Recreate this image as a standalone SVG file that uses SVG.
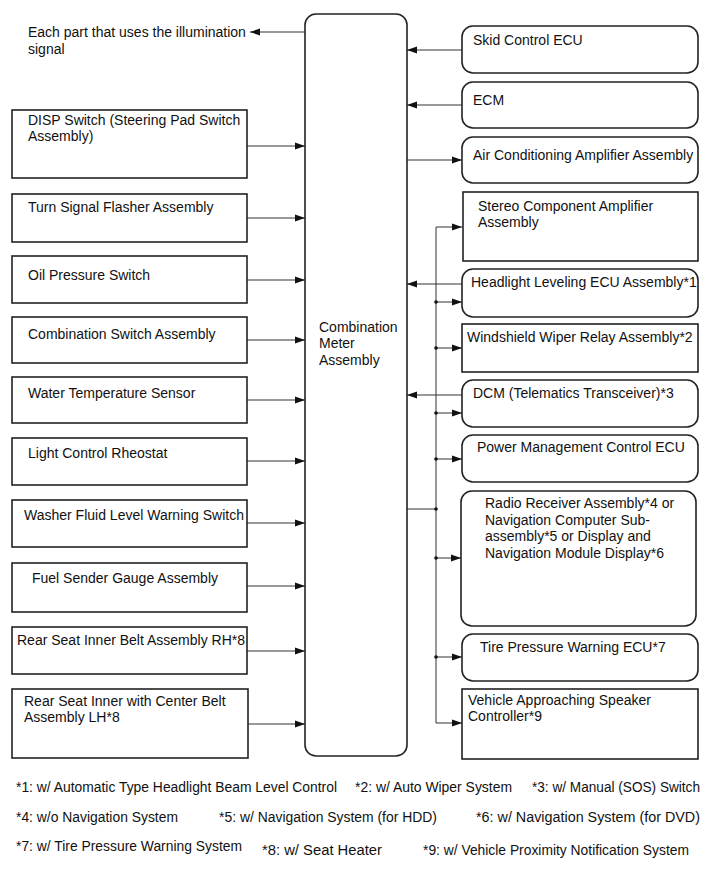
<svg xmlns="http://www.w3.org/2000/svg" width="713" height="882" viewBox="0 0 713 882">
<style>
.b{fill:#fff;stroke:#222;stroke-width:1.6}
.t{font-family:"Liberation Sans",Arial,sans-serif;font-size:14px;fill:#111}
.f{font-family:"Liberation Sans",Arial,sans-serif;font-size:14px;fill:#111}
.c{fill:none;stroke:#333;stroke-width:1}
.a{fill:none;stroke:#333;stroke-width:1;marker-end:url(#ah)}
</style>
<defs>
<marker id="ah" viewBox="0 0 10 8" refX="10" refY="4" markerWidth="10" markerHeight="8" markerUnits="userSpaceOnUse" orient="auto">
<path d="M0,0.5 L10,4 L0,7.5 Z" fill="#111"/>
</marker>
</defs>
<rect width="713" height="882" fill="#fff"/>
<g id="connectors">
<line class="a" x1="305" y1="32" x2="250" y2="32"/>
<line class="a" x1="247" y1="146" x2="305" y2="146"/>
<line class="a" x1="247" y1="218" x2="305" y2="218"/>
<line class="a" x1="247" y1="280" x2="305" y2="280"/>
<line class="a" x1="247" y1="340" x2="305" y2="340"/>
<line class="a" x1="247" y1="400" x2="305" y2="400"/>
<line class="a" x1="247" y1="461" x2="305" y2="461"/>
<line class="a" x1="247" y1="523" x2="305" y2="523"/>
<line class="a" x1="247" y1="586" x2="305" y2="586"/>
<line class="a" x1="247" y1="651" x2="305" y2="651"/>
<line class="a" x1="247" y1="724" x2="305" y2="724"/>
<line class="a" x1="462" y1="50" x2="407" y2="50"/>
<line class="a" x1="462" y1="105" x2="407" y2="105"/>
<line class="a" x1="407" y1="160" x2="462" y2="160"/>
<line class="a" x1="462" y1="284" x2="407" y2="284"/>
<line class="a" x1="462" y1="395" x2="407" y2="395"/>
<path class="c" d="M407,509 H436 M436,227 V723"/>
<line class="a" x1="436" y1="227" x2="462" y2="227"/>
<line class="a" x1="436" y1="302" x2="462" y2="302"/>
<line class="a" x1="436" y1="348" x2="462" y2="348"/>
<line class="a" x1="436" y1="413" x2="462" y2="413"/>
<line class="a" x1="436" y1="459" x2="462" y2="459"/>
<line class="a" x1="436" y1="558" x2="461" y2="558"/>
<line class="a" x1="436" y1="657" x2="462" y2="657"/>
<line class="a" x1="436" y1="723" x2="462" y2="723"/>
<g fill="#111">
<circle cx="436" cy="302" r="1.8"/>
<circle cx="436" cy="348" r="1.8"/>
<circle cx="436" cy="413" r="1.8"/>
<circle cx="436" cy="459" r="1.8"/>
<circle cx="436" cy="509" r="1.8"/>
<circle cx="436" cy="558" r="1.8"/>
<circle cx="436" cy="657" r="1.8"/>
</g>
</g>
<g id="illum">
<text class="t" x="28" y="37">Each part that uses the illumination</text>
<text class="t" x="28" y="54">signal</text>
</g>
<g id="meter">
<rect class="b" x="305" y="14" width="102" height="742" rx="11"/>
<text class="t" x="319" y="332">Combination</text>
<text class="t" x="319" y="348">Meter</text>
<text class="t" x="319" y="365">Assembly</text>
</g>
<g id="disp"><rect class="b" x="12" y="110" width="235" height="68"/><text class="t" x="28" y="125">DISP Switch (Steering Pad Switch</text><text class="t" x="28" y="141">Assembly)</text></g>
<g id="turn"><rect class="b" x="12" y="194" width="235" height="48"/><text class="t" x="28" y="212">Turn Signal Flasher Assembly</text></g>
<g id="oil"><rect class="b" x="12" y="256" width="235" height="47"/><text class="t" x="28" y="280">Oil Pressure Switch</text></g>
<g id="combsw"><rect class="b" x="12" y="317" width="235" height="46"/><text class="t" x="28" y="339">Combination Switch Assembly</text></g>
<g id="water"><rect class="b" x="12" y="377" width="235" height="46"/><text class="t" x="28" y="398">Water Temperature Sensor</text></g>
<g id="rheo"><rect class="b" x="12" y="438" width="235" height="47"/><text class="t" x="28" y="458">Light Control Rheostat</text></g>
<g id="washer"><rect class="b" x="12" y="500" width="235" height="47"/><text class="t" x="24" y="520">Washer Fluid Level Warning Switch</text></g>
<g id="fuel"><rect class="b" x="12" y="563" width="235" height="49"/><text class="t" x="32" y="583">Fuel Sender Gauge Assembly</text></g>
<g id="rearrh"><rect class="b" x="12" y="627" width="235" height="47"/><text class="t" x="17" y="645">Rear Seat Inner Belt Assembly RH*8</text></g>
<g id="rearlh"><rect class="b" x="12" y="689" width="236" height="69"/><text class="t" x="24" y="706">Rear Seat Inner with Center Belt</text><text class="t" x="24" y="722">Assembly LH*8</text></g>
<g id="skid"><rect class="b" x="462" y="26" width="236" height="47" rx="11"/><text class="t" x="473" y="45">Skid Control ECU</text></g>
<g id="ecm"><rect class="b" x="462" y="82" width="236" height="46" rx="11"/><text class="t" x="473" y="105">ECM</text></g>
<g id="aircon"><rect class="b" x="462" y="137" width="236" height="46" rx="11"/><text class="t" x="473" y="160">Air Conditioning Amplifier Assembly</text></g>
<g id="stereo"><rect class="b" x="463" y="192" width="235" height="69"/><text class="t" x="478" y="211">Stereo Component Amplifier</text><text class="t" x="478" y="227">Assembly</text></g>
<g id="headlight"><rect class="b" x="462" y="269" width="236" height="48" rx="11"/><text class="t" x="471" y="287">Headlight Leveling ECU Assembly*1</text></g>
<g id="wiper"><rect class="b" x="462" y="324" width="236" height="48"/><text class="t" x="467" y="342">Windshield Wiper Relay Assembly*2</text></g>
<g id="dcm"><rect class="b" x="462" y="380" width="236" height="47" rx="11"/><text class="t" x="473" y="398">DCM (Telematics Transceiver)*3</text></g>
<g id="power"><rect class="b" x="462" y="435" width="236" height="47" rx="11"/><text class="t" x="477" y="452">Power Management Control ECU</text></g>
<g id="radio"><rect class="b" x="461" y="491" width="235" height="135" rx="11"/><text class="t" x="485" y="508">Radio Receiver Assembly*4 or</text><text class="t" x="485" y="525">Navigation Computer Sub-</text><text class="t" x="485" y="541">assembly*5 or Display and</text><text class="t" x="485" y="558">Navigation Module Display*6</text></g>
<g id="tire"><rect class="b" x="462" y="634" width="236" height="47" rx="11"/><text class="t" x="480" y="652">Tire Pressure Warning ECU*7</text></g>
<g id="vehicle"><rect class="b" x="462" y="689" width="236" height="70"/><text class="t" x="468" y="705">Vehicle Approaching Speaker</text><text class="t" x="468" y="721">Controller*9</text></g>
<g id="notes">
<text class="f" x="16" y="792" textLength="321" lengthAdjust="spacingAndGlyphs">*1: w/ Automatic Type Headlight Beam Level Control</text>
<text class="f" x="355" y="792" textLength="157" lengthAdjust="spacingAndGlyphs">*2: w/ Auto Wiper System</text>
<text class="f" x="532" y="792" textLength="168" lengthAdjust="spacingAndGlyphs">*3: w/ Manual (SOS) Switch</text>
<text class="f" x="16" y="822" textLength="162" lengthAdjust="spacingAndGlyphs">*4: w/o Navigation System</text>
<text class="f" x="219" y="822" textLength="218" lengthAdjust="spacingAndGlyphs">*5: w/ Navigation System (for HDD)</text>
<text class="f" x="476" y="822" textLength="224" lengthAdjust="spacingAndGlyphs">*6: w/ Navigation System (for DVD)</text>
<text class="f" x="16" y="851" textLength="226" lengthAdjust="spacingAndGlyphs">*7: w/ Tire Pressure Warning System</text>
<text class="f" x="262" y="855" textLength="120" lengthAdjust="spacingAndGlyphs">*8: w/ Seat Heater</text>
<text class="f" x="423" y="855" textLength="266" lengthAdjust="spacingAndGlyphs">*9: w/ Vehicle Proximity Notification System</text>
</g>
</svg>
